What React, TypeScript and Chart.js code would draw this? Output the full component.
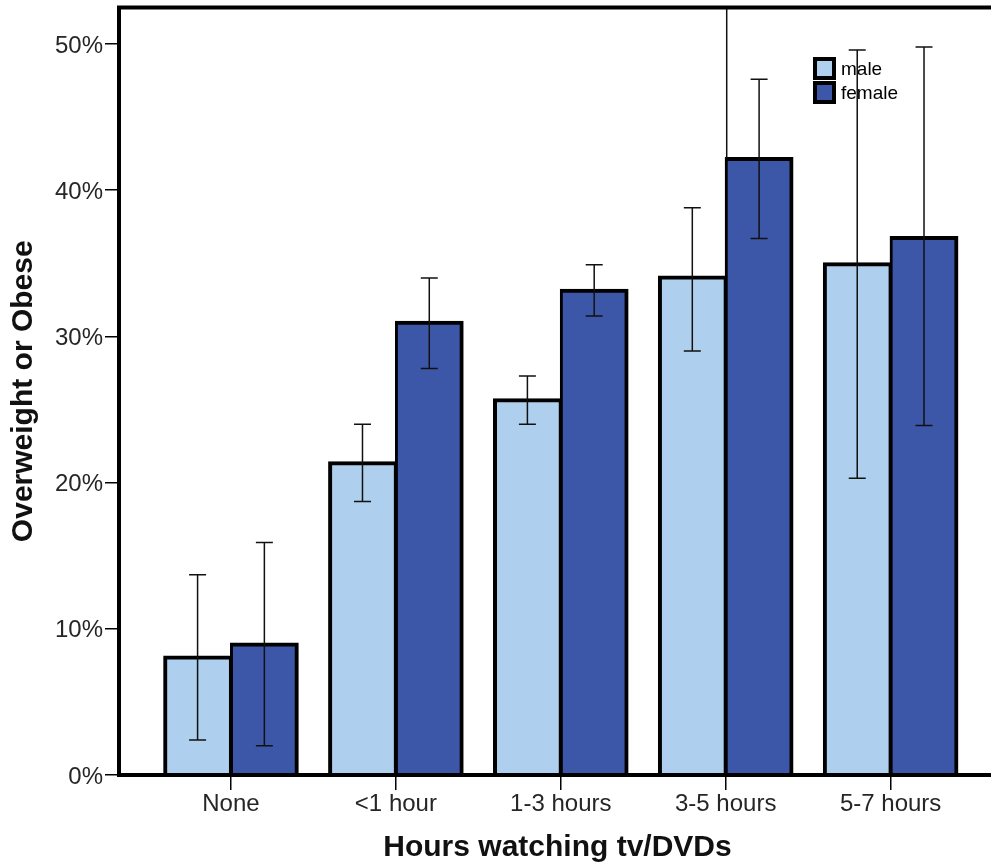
import React, { useEffect, useRef } from 'react';
import { Chart, registerables } from 'chart.js';

Chart.register(...registerables);

const categories = ['None', '<1 hour', '1-3 hours', '3-5 hours', '5-7 hours'];
const seriesNames = ['male', 'female'];
const maleValues = [8.1, 21.4, 25.7, 34.1, 35.0];
const femaleValues = [9.0, 31.0, 33.2, 42.2, 36.8];
const maleLow = [2.4, 18.7, 24.0, 29.0, 20.3];
const maleHigh = [13.7, 24.0, 27.3, 38.8, 49.6];
const femaleLow = [2.0, 27.8, 31.4, 36.7, 23.9];
const femaleHigh = [15.9, 34.0, 34.9, 47.6, 49.8];
const yTicks = [0, 10, 20, 30, 40, 50];
const xTitle = 'Hours watching tv/DVDs';
const yTitle = 'Overweight or Obese';

const seriesColors = ['#AED0EE', '#3D57A8'];
const lows = [maleLow, femaleLow];
const highs = [maleHigh, femaleHigh];

const overlayPlugin = {
  id: 'spssOverlay',
  afterDatasetsDraw(chart: any) {
    const { ctx, chartArea, scales } = chart;
    const yScale = scales.y;
    ctx.save();

    // legend
    const lx = 813;
    const ly = [57, 81];
    const box = 23;
    chart.data.datasets.forEach((ds: any, d: number) => {
      ctx.fillStyle = '#000';
      ctx.fillRect(lx, ly[d], box, box);
      ctx.fillStyle = ds.backgroundColor;
      ctx.fillRect(lx + 4, ly[d] + 4, box - 8, box - 8);
      ctx.fillStyle = '#000';
      ctx.font = '19px "Liberation Sans", Arial, sans-serif';
      ctx.textBaseline = 'middle';
      ctx.textAlign = 'left';
      ctx.fillText(ds.label, lx + 28, ly[d] + box / 2 + 1);
    });

    // error bars
    ctx.strokeStyle = '#111';
    ctx.lineWidth = 1.5;
    chart.data.datasets.forEach((ds: any, d: number) => {
      const meta = chart.getDatasetMeta(d);
      meta.data.forEach((bar: any, i: number) => {
        const x = bar.x;
        const y1 = yScale.getPixelForValue(lows[d][i]);
        const y2 = yScale.getPixelForValue(highs[d][i]);
        ctx.beginPath();
        ctx.moveTo(x, y1);
        ctx.lineTo(x, y2);
        ctx.moveTo(x - 8.5, y1);
        ctx.lineTo(x + 8.5, y1);
        ctx.moveTo(x - 8.5, y2);
        ctx.lineTo(x + 8.5, y2);
        ctx.stroke();
      });
    });

    // spike line above the 3-5 hours female bar (as in the source)
    const fMeta = chart.getDatasetMeta(1);
    const fb: any = fMeta.data[3];
    if (fb) {
      const sx = fb.x - fb.width / 2 + 1;
      ctx.beginPath();
      ctx.moveTo(sx, chartArea.top);
      ctx.lineTo(sx, fb.y);
      ctx.stroke();
    }

    // frame
    ctx.strokeStyle = '#000';
    ctx.lineWidth = 4;
    ctx.beginPath();
    ctx.moveTo(chartArea.right + 4, chartArea.top);
    ctx.lineTo(chartArea.left, chartArea.top);
    ctx.lineTo(chartArea.left, chartArea.bottom);
    ctx.lineTo(chartArea.right + 4, chartArea.bottom);
    ctx.stroke();
    ctx.restore();
  },
};

export default function App() {
  const ref = useRef<HTMLCanvasElement>(null);

  useEffect(() => {
    if (!ref.current) return;
    const chart = new Chart(ref.current, {
      type: 'bar',
      data: {
        datasets: [
          {
            label: seriesNames[0],
            data: maleValues.map((v, i) => ({ x: i, y: v })),
            backgroundColor: seriesColors[0],
            borderColor: '#000',
            borderWidth: { top: 4, left: 4, right: 3, bottom: 0 },
            inflateAmount: 1,
          },
          {
            label: seriesNames[1],
            data: femaleValues.map((v, i) => ({ x: i, y: v })),
            backgroundColor: seriesColors[1],
            borderColor: '#000',
            borderWidth: { top: 4, left: 3, right: 4, bottom: 0 },
            inflateAmount: 1,
          },
        ],
      },
      options: {
        animation: false,
        responsive: false,
        devicePixelRatio: 1,
        categoryPercentage: 0.81,
        barPercentage: 1,
        layout: { padding: { top: 7.5, left: 0, right: 0, bottom: 0 } },
        plugins: {
          legend: { display: false },
          tooltip: { enabled: false },
        },
        scales: {
          x: {
            type: 'linear',
            offset: false,
            min: -0.679,
            max: 4.639,
            afterBuildTicks: (axis: any) => {
              axis.ticks = categories.map((_, i) => ({ value: i }));
            },
            afterFit: (scale: any) => {
              scale.height = 93;
              scale.paddingLeft = 0;
              scale.paddingRight = 0;
            },
            border: { display: false },
            grid: {
              offset: false,
              drawOnChartArea: false,
              drawTicks: true,
              tickLength: 15,
              tickColor: '#000',
              lineWidth: 1.5,
            },
            ticks: {
              autoSkip: false,
              maxRotation: 0,
              padding: 0,
              color: '#262626',
              font: { family: '"Liberation Sans", Arial, sans-serif', size: 24 },
              callback: (v: any) => categories[Math.round(Number(v))] ?? '',
            },
            title: {
              display: true,
              text: xTitle,
              color: '#111',
              font: { family: '"Liberation Sans", Arial, sans-serif', size: 30, weight: 'bold' },
              padding: { top: 0, bottom: 2.4 },
            },
          },
          y: {
            type: 'linear',
            min: 0,
            max: 52.5,
            afterBuildTicks: (axis: any) => {
              axis.ticks = yTicks.map((v) => ({ value: v }));
            },
            afterFit: (scale: any) => {
              scale.width = 119;
              scale.paddingTop = 0;
              scale.paddingBottom = 0;
            },
            border: { display: false },
            grid: {
              drawOnChartArea: false,
              drawTicks: true,
              tickLength: 14,
              tickColor: '#000',
              lineWidth: 1.5,
            },
            ticks: {
              padding: 2,
              labelOffset: 2,
              color: '#262626',
              font: { family: '"Liberation Sans", Arial, sans-serif', size: 24 },
              callback: (v: any) => `${v}%`,
            },
            title: {
              display: true,
              text: yTitle,
              color: '#111',
              font: { family: '"Liberation Sans", Arial, sans-serif', size: 30, weight: 'bold' },
              padding: { top: 6, bottom: 0 },
            },
          },
        },
      },
      plugins: [overlayPlugin],
    } as any);
    return () => chart.destroy();
  }, []);

  return (
    <div
      style={{
        position: 'fixed',
        left: 0,
        top: 0,
        width: 991,
        height: 868,
        overflow: 'hidden',
        background: '#fff',
      }}
    >
      <canvas ref={ref} width={996} height={868} style={{ display: 'block', width: 996, height: 868 }} />
    </div>
  );
}
